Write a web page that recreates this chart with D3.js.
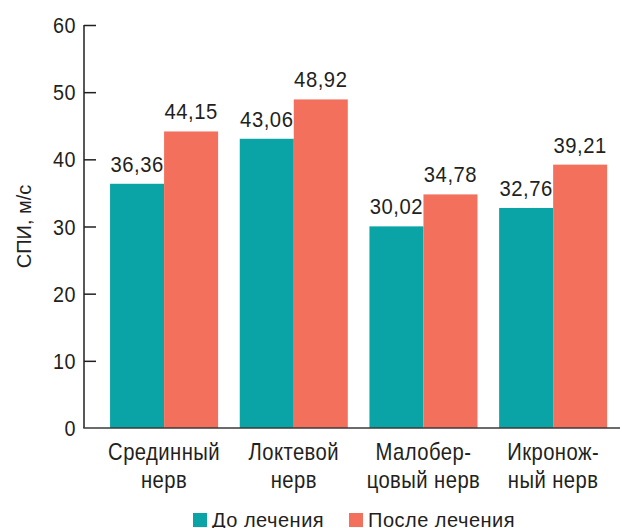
<!DOCTYPE html>
<html>
<head>
<meta charset="utf-8">
<script src="https://cdn.jsdelivr.net/npm/d3@7"></script>
<style>
  html, body { margin: 0; padding: 0; background: #fff; }
  svg text { font-family: "Liberation Sans", Arial, sans-serif; fill: #231f20; }
</style>
</head>
<body>
<svg id="chart" width="622" height="528"></svg>
<script>
// Nerve categories (two-line labels) and conduction velocities, m/s
const categories = ["Срединный нерв", "Локтевой нерв", "Малобер-цовый нерв", "Икронож-ный нерв"];
const categoryLines = [["Срединный", "нерв"], ["Локтевой", "нерв"], ["Малобер-", "цовый нерв"], ["Икронож-", "ный нерв"]];
const seriesNames = ["До лечения", "После лечения"];
const before = [36.36, 43.06, 30.02, 32.76];
const after = [44.15, 48.92, 34.78, 39.21];
const yTicks = [0, 10, 20, 30, 40, 50, 60];
const colors = ["#0aa4a6", "#f3705c"];

const svg = d3.select("#chart");
const plotLeft = 84, plotRight = 620, plotTop = 25, plotBottom = 428;

const y = d3.scaleLinear().domain([0, 60]).range([plotBottom, plotTop]);
const x = d3.scaleBand().domain(categories).range([plotLeft, plotRight])
  .paddingInner(0.167).paddingOuter(0.15).align(0.67);
const xs = d3.scaleBand().domain(seriesNames).range([0, x.bandwidth()]).padding(0);

const rows = categories.map((c, i) => ({ cat: c, vals: [before[i], after[i]] }));
const fmt = v => d3.format(".2f")(v).replace(".", ",");

// narrow text: placed by transform and squeezed horizontally
function narrowText(parent, px, py, size, sx, anchor, str, spacing) {
  return parent.append("text")
    .attr("transform", `translate(${px},${py}) scale(${sx},1)`)
    .attr("text-anchor", anchor)
    .attr("font-size", size)
    .attr("letter-spacing", spacing || 0)
    .text(str);
}

// bars and value labels
const g = svg.selectAll("g.grp").data(rows).join("g")
  .attr("class", "grp")
  .attr("transform", d => `translate(${x(d.cat)},0)`);

g.selectAll("rect").data(d => d.vals.map((v, k) => ({ v, k })))
  .join("rect")
  .attr("x", d => xs(seriesNames[d.k]))
  .attr("width", xs.bandwidth())
  .attr("y", d => y(d.v))
  .attr("height", d => y(0) - y(d.v))
  .attr("fill", d => colors[d.k]);

g.each(function (d) {
  d.vals.forEach((v, k) => {
    narrowText(d3.select(this), xs(seriesNames[k]) + xs.bandwidth() / 2, y(v) - 12, 22.5, 0.9, "middle", fmt(v), 0.6);
  });
});

// y axis with inward ticks
const yAxis = d3.axisRight(y).tickValues(yTicks.slice(1)).tickSize(12).tickFormat("");
const ya = svg.append("g").attr("transform", `translate(${plotLeft},0)`).call(yAxis);
ya.select(".domain").remove();
ya.selectAll(".tick line").attr("stroke", "#231f20").attr("stroke-width", 1.5);

svg.append("line").attr("x1", plotLeft).attr("x2", plotLeft).attr("y1", y(60)).attr("y2", y(0))
  .attr("stroke", "#231f20").attr("stroke-width", 1.5);
svg.append("line").attr("x1", plotLeft - 0.75).attr("x2", plotRight).attr("y1", y(0)).attr("y2", y(0))
  .attr("stroke", "#3a3a3a").attr("stroke-width", 1.5);

yTicks.forEach(t => {
  narrowText(svg, 76, y(t) + 8, 22, 0.9, "end", t, 0.5);
});

// axis title
svg.append("text")
  .attr("transform", `translate(31,${(plotTop + plotBottom) / 2}) rotate(-90)`)
  .attr("text-anchor", "middle")
  .attr("font-size", 20)
  .text("СПИ, м/с");

// category labels
categories.forEach((c, i) => {
  const cx = x(c) + x.bandwidth() / 2;
  categoryLines[i].forEach((line, j) => {
    narrowText(svg, cx, 460 + j * 27.5, 23, 0.88, "middle", line, 0.5);
  });
});

// legend
const legend = [{ x: 193, tx: 212 }, { x: 349, tx: 368 }];
legend.forEach((l, k) => {
  svg.append("rect").attr("x", l.x).attr("y", 513).attr("width", 14).attr("height", 14).attr("fill", colors[k]);
  svg.append("text").attr("x", l.tx).attr("y", 527).attr("font-size", 20)
    .attr("letter-spacing", 0.5).text(seriesNames[k]);
});
</script>
</body>
</html>
